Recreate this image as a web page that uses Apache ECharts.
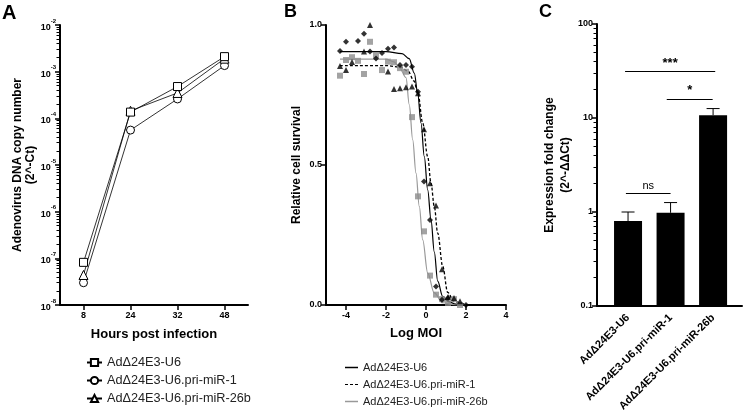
<!DOCTYPE html>
<html><head><meta charset="utf-8">
<script src="https://cdn.jsdelivr.net/npm/echarts@6/dist/echarts.min.js"></script>
<style>html,body{margin:0;padding:0;background:#fff}#c{width:744px;height:416px}</style>
</head><body><div id="c"></div>
<script>
const FONT = 'Liberation Sans, Arial, sans-serif';
const seriesNames = ['AdΔ24E3-U6', 'AdΔ24E3-U6.pri-miR-1', 'AdΔ24E3-U6.pri-miR-26b'];

// ---- Panel A: DNA copy number (2^-Ct) vs hours ----
const hoursA = ['8', '24', '32', '48'];
const copyU6 = [8.2e-8, 1.36e-4, 4.8e-4, 2.1e-3];
const copyMiR1 = [3.0e-8, 5.6e-5, 2.6e-4, 1.35e-3];
const copyMiR26b = [4.4e-8, 1.45e-4, 3.5e-4, 1.9e-3];
const yTicksA = [1e-8, 1e-7, 1e-6, 1e-5, 1e-4, 1e-3, 1e-2];

// ---- Panel B: relative cell survival vs log MOI ----
const moiTicksB = [-4, -2, 0, 2, 4];
const survTicksB = [0, 0.5, 1];
const pointsU6 = [[-4.3,0.907],[-4.0,0.94],[-3.4,0.943],[-3.1,0.969],[-2.8,0.905],[-2.5,0.88],[-2.2,0.90],[-1.9,0.915],[-1.6,0.92],[-1.3,0.857],[-1.0,0.857],[-0.7,0.851],[-0.4,0.762],[-0.1,0.441],[0.2,0.304],[0.5,0.066],[0.8,0.019],[1.1,0.025],[2.0,0.0]];
const pointsMiR1 = [[-4.3,0.854],[-4.0,0.839],[-3.7,0.868],[-3.1,0.905],[-2.8,1.0],[-1.9,0.834],[-1.6,0.771],[-1.3,0.774],[-1.0,0.778],[-0.7,0.78],[-0.4,0.756],[-0.1,0.628],[0.2,0.435],[0.5,0.355],[0.8,0.128],[1.1,0.029],[1.4,0.025],[1.7,0.013]];
const pointsMiR26b = [[-4.3,0.819],[-4.0,0.875],[-3.7,0.885],[-3.4,0.872],[-3.1,0.825],[-2.8,0.94],[-2.5,0.893],[-2.2,0.839],[-1.9,0.869],[-1.6,0.867],[-1.3,0.846],[-1.0,0.833],[-0.7,0.671],[-0.4,0.388],[-0.1,0.263],[0.2,0.105],[0.5,0.037],[0.8,0.021],[1.1,0.007],[1.4,0.021],[1.7,0.0]];
const fitU6 = [[-4.3,0.905],[-2.0,0.905],[-1.2,0.898],[-0.84,0.88],[-0.585,0.828],[-0.415,0.756],[-0.25,0.65],[-0.085,0.53],[0.085,0.411],[0.25,0.304],[0.415,0.19],[0.585,0.085],[0.835,0.031],[1.1,0.012],[1.5,0.003],[2.0,0.0]];
const fitMiR1 = [[-4.3,0.855],[-2.0,0.855],[-1.3,0.85],[-0.9,0.835],[-0.6,0.80],[-0.4,0.755],[-0.165,0.65],[0.085,0.53],[0.25,0.435],[0.415,0.352],[0.585,0.257],[0.835,0.138],[1.085,0.045],[1.4,0.012],[2.0,0.0]];
const fitMiR26b = [[-4.3,0.878],[-2.0,0.878],[-1.6,0.868],[-1.33,0.848],[-1.0,0.812],[-0.835,0.715],[-0.665,0.59],[-0.5,0.471],[-0.335,0.352],[-0.165,0.233],[0.085,0.114],[0.415,0.043],[0.835,0.008],[1.5,0.0],[2.0,0.0]];

// ---- Panel C: expression fold change (2^-ddCt) ----
const catsC = seriesNames;
const foldMean = [0.8, 0.98, 10.7];
const foldUpper = [1.0, 1.26, 12.6];
const yTicksC = [0.1, 1, 10, 100];
const sigLabels = ['***', '*', 'ns'];
const sigFrom = [-0.07, 0.91, -0.05];
const sigTo = [2.05, 1.99, 1.0];
const sigLevel = [31.2, 15.8, 1.57];

function minorLog(lo, hi) {
  const out = [];
  for (let e = lo; e < hi; e++) for (let m = 2; m <= 9; m++) out.push(+(m * Math.pow(10, e)).toPrecision(3));
  return out;
}
const minorA = minorLog(-8, -2);
const minorC = minorLog(-1, 2);

const axisLine = { show: true, onZero: false, lineStyle: { color: '#000', width: 2 } };
const tickLabel = { color: '#000', fontFamily: FONT, fontWeight: 'bold', fontSize: 9 };
const nameStyle = { color: '#000', fontFamily: FONT, fontWeight: 'bold', fontSize: 12 };
const dashIcon = 'path://M0,0h3v1h-3z M5,0h3v1h-3z M10,0h3v1h-3z';

const chart = echarts.init(document.getElementById('c'), null, { renderer: 'canvas' });
const option = {
  animation: false,
  backgroundColor: '#fff',
  title: [
    { text: 'A', left: 2, top: 3, padding: 0, textStyle: { fontFamily: FONT, fontWeight: 'bold', fontSize: 20, color: '#000' } },
    { text: 'B', left: 284, top: 3, padding: 0, textStyle: { fontFamily: FONT, fontWeight: 'bold', fontSize: 18, color: '#000' } },
    { text: 'C', left: 539, top: 3, padding: 0, textStyle: { fontFamily: FONT, fontWeight: 'bold', fontSize: 18, color: '#000' } }
  ],
  grid: [
    { left: 60, top: 25, width: 188, height: 280 },
    { left: 326, top: 25, width: 180, height: 280 },
    { left: 597, top: 24, width: 145, height: 282 }
  ],
  legend: [
    { data: seriesNames, orient: 'vertical', left: 86, top: 356, padding: 0, itemWidth: 15, itemHeight: 9, itemGap: 5, selectedMode: false,
      textStyle: { fontFamily: FONT, fontSize: 12.7, color: '#222', lineHeight: 13 } },
    { data: [
        { name: 'B|' + seriesNames[0], icon: 'rect' },
        { name: 'B|' + seriesNames[1], icon: dashIcon },
        { name: 'B|' + seriesNames[2], icon: 'rect' }
      ],
      orient: 'vertical', left: 345, top: 362, padding: 0, itemWidth: 13, itemHeight: 1.5, itemGap: 6, selectedMode: false,
      formatter: n => n.replace(/^B\|/, ''),
      textStyle: { fontFamily: FONT, fontSize: 11, color: '#222', lineHeight: 11 } }
  ],
  xAxis: [
    { gridIndex: 0, type: 'category', data: hoursA, boundaryGap: true,
      axisLine: axisLine, axisTick: { show: true, alignWithLabel: true, length: 5, lineStyle: { color: '#000', width: 1.5 } },
      axisLabel: Object.assign({ margin: 6 }, tickLabel),
      name: 'Hours post infection', nameLocation: 'middle', nameGap: 23, nameTextStyle: Object.assign({}, nameStyle, { fontSize: 13 }) },
    { gridIndex: 1, type: 'value', min: -5, max: 4,
      axisLine: axisLine, splitLine: { show: false },
      axisTick: { show: true, length: 5, customValues: moiTicksB, lineStyle: { color: '#000', width: 1.5 } },
      axisLabel: Object.assign({ margin: 6, customValues: moiTicksB }, tickLabel),
      name: 'Log MOI', nameLocation: 'middle', nameGap: 22, nameTextStyle: Object.assign({}, nameStyle, { fontSize: 13 }) },
    { gridIndex: 2, type: 'value', min: -0.73, max: 2.68,
      axisLine: axisLine, splitLine: { show: false }, axisTick: { show: false },
      axisLabel: Object.assign({ margin: 10, rotate: 45, customValues: [0, 1, 2], formatter: v => catsC[Math.round(v)] }, tickLabel, { fontSize: 11 }) }
  ],
  yAxis: [
    { gridIndex: 0, type: 'log', logBase: 10, min: 1e-8, max: 1e-2, position: 'left',
      axisLine: axisLine, splitLine: { show: false },
      axisTick: { show: true, length: 5, customValues: yTicksA, lineStyle: { color: '#000', width: 1.5 } },
      axisLabel: { margin: 4, customValues: yTicksA,
        formatter: v => '{n|10}{s|' + Math.round(Math.log10(v)) + '}',
        rich: { n: { fontFamily: FONT, fontWeight: 'bold', fontSize: 9, color: '#000', lineHeight: 14, verticalAlign: 'bottom' },
                s: { fontFamily: FONT, fontWeight: 'bold', fontSize: 6, color: '#000', lineHeight: 14, verticalAlign: 'top' } } },
      name: 'Adenovirus DNA copy number\n(2^-Ct)', nameLocation: 'middle', nameGap: 17,
      nameTextStyle: Object.assign({}, nameStyle, { lineHeight: 13 }) },
    { gridIndex: 0, type: 'log', logBase: 10, min: 1e-8, max: 1e-2, position: 'left', offset: 0,
      axisLine: { show: false, onZero: false }, splitLine: { show: false }, axisLabel: { show: false },
      axisTick: { show: true, length: 3.5, customValues: minorA, lineStyle: { color: '#000', width: 1 } } },
    { gridIndex: 1, type: 'value', min: 0, max: 1, position: 'left',
      axisLine: axisLine, splitLine: { show: false },
      axisTick: { show: true, length: 5, customValues: survTicksB, lineStyle: { color: '#000', width: 1.5 } },
      axisLabel: Object.assign({ margin: 4, customValues: survTicksB, formatter: v => v.toFixed(1) }, tickLabel),
      name: 'Relative cell survival', nameLocation: 'middle', nameGap: 23, nameTextStyle: nameStyle },
    { gridIndex: 2, type: 'log', logBase: 10, min: 0.1, max: 100, position: 'left',
      axisLine: axisLine, splitLine: { show: false },
      axisTick: { show: true, length: 5, customValues: yTicksC, lineStyle: { color: '#000', width: 1.5 } },
      axisLabel: Object.assign({ margin: 4, customValues: yTicksC, formatter: v => String(v) }, tickLabel),
      name: 'Expression fold change\n(2^-ΔΔCt)', nameLocation: 'middle', nameGap: 17,
      nameTextStyle: Object.assign({}, nameStyle, { lineHeight: 16 }) },
    { gridIndex: 2, type: 'log', logBase: 10, min: 0.1, max: 100, position: 'left', offset: 0,
      axisLine: { show: false, onZero: false }, splitLine: { show: false }, axisLabel: { show: false },
      axisTick: { show: true, length: 3.5, customValues: minorC, lineStyle: { color: '#000', width: 1 } } }
  ],
  series: [
    // Panel A
    { name: seriesNames[0], type: 'line', xAxisIndex: 0, yAxisIndex: 0, data: copyU6, symbol: 'rect', symbolSize: 8,
      itemStyle: { color: '#fff', borderColor: '#000', borderWidth: 1 }, lineStyle: { color: '#000', width: 0.8 }, z: 3 },
    { name: seriesNames[1], type: 'line', xAxisIndex: 0, yAxisIndex: 0, data: copyMiR1, symbol: 'circle', symbolSize: 8,
      itemStyle: { color: '#fff', borderColor: '#000', borderWidth: 1 }, lineStyle: { color: '#000', width: 0.8 }, z: 2 },
    { name: seriesNames[2], type: 'line', xAxisIndex: 0, yAxisIndex: 0, data: copyMiR26b, symbol: 'triangle', symbolSize: 9,
      itemStyle: { color: '#fff', borderColor: '#000', borderWidth: 1 }, lineStyle: { color: '#000', width: 0.8 }, z: 2 },
    // Panel B fitted curves
    { name: 'B|' + seriesNames[0], type: 'line', xAxisIndex: 1, yAxisIndex: 2, data: fitU6, showSymbol: false, symbol: 'none',
      smooth: 0.35, smoothMonotone: 'x', lineStyle: { color: '#000', width: 1.2 }, itemStyle: { color: '#000' } },
    { name: 'B|' + seriesNames[1], type: 'line', xAxisIndex: 1, yAxisIndex: 2, data: fitMiR1, showSymbol: false, symbol: 'none',
      smooth: 0.35, smoothMonotone: 'x', lineStyle: { color: '#000', width: 1.3, type: [3, 2] }, itemStyle: { color: '#000' } },
    { name: 'B|' + seriesNames[2], type: 'line', xAxisIndex: 1, yAxisIndex: 2, data: fitMiR26b, showSymbol: false, symbol: 'none',
      smooth: 0.35, smoothMonotone: 'x', lineStyle: { color: '#999', width: 1.2 }, itemStyle: { color: '#999' } },
    // Panel B points
    { name: 'ptsU6', type: 'scatter', xAxisIndex: 1, yAxisIndex: 2, data: pointsU6, symbol: 'diamond', symbolSize: 6, itemStyle: { color: '#000' }, z: 4 },
    { name: 'ptsMiR1', type: 'scatter', xAxisIndex: 1, yAxisIndex: 2, data: pointsMiR1, symbol: 'triangle', symbolSize: 6, itemStyle: { color: '#000' }, z: 4 },
    { name: 'ptsMiR26b', type: 'scatter', xAxisIndex: 1, yAxisIndex: 2, data: pointsMiR26b, symbol: 'rect', symbolSize: 6, itemStyle: { color: '#8c8c8c' }, z: 3 },
    // Panel C bars
    { name: 'bars', type: 'custom', xAxisIndex: 2, yAxisIndex: 3,
      data: foldMean.map((v, i) => [i, v]),
      renderItem: function (params, api) {
        const top = api.coord([api.value(0), api.value(1)]);
        const base = api.coord([api.value(0), yTicksC[0]]);
        return { type: 'rect', shape: { x: top[0] - 14, y: top[1], width: 28, height: base[1] - top[1] }, style: { fill: '#000' } };
      } },
    { name: 'errs', type: 'custom', xAxisIndex: 2, yAxisIndex: 3,
      data: foldMean.map((v, i) => [i, v, foldUpper[i]]),
      renderItem: function (params, api) {
        const a = api.coord([api.value(0), api.value(1)]);
        const b = api.coord([api.value(0), api.value(2)]);
        const st = { stroke: '#000', lineWidth: 1 };
        return { type: 'group', children: [
          { type: 'line', shape: { x1: a[0], y1: a[1], x2: b[0], y2: b[1] }, style: st },
          { type: 'line', shape: { x1: b[0] - 6.5, y1: b[1], x2: b[0] + 6.5, y2: b[1] }, style: st }
        ] };
      },
      markLine: {
        silent: true, symbol: ['none', 'none'], animation: false,
        lineStyle: { color: '#000', width: 1, type: 'solid' },
        label: { show: true, position: 'insideMiddleTop', distance: 2, formatter: '{b}', color: '#000', fontFamily: FONT },
        data: sigLabels.map((t, i) => [
          { name: t, coord: [sigFrom[i], sigLevel[i]],
            label: { fontSize: t === 'ns' ? 11 : 13, fontWeight: t === 'ns' ? 'normal' : 'bold' } },
          { coord: [sigTo[i], sigLevel[i]] }
        ])
      } }
  ]
};
chart.setOption(option);
</script>
</body></html>
